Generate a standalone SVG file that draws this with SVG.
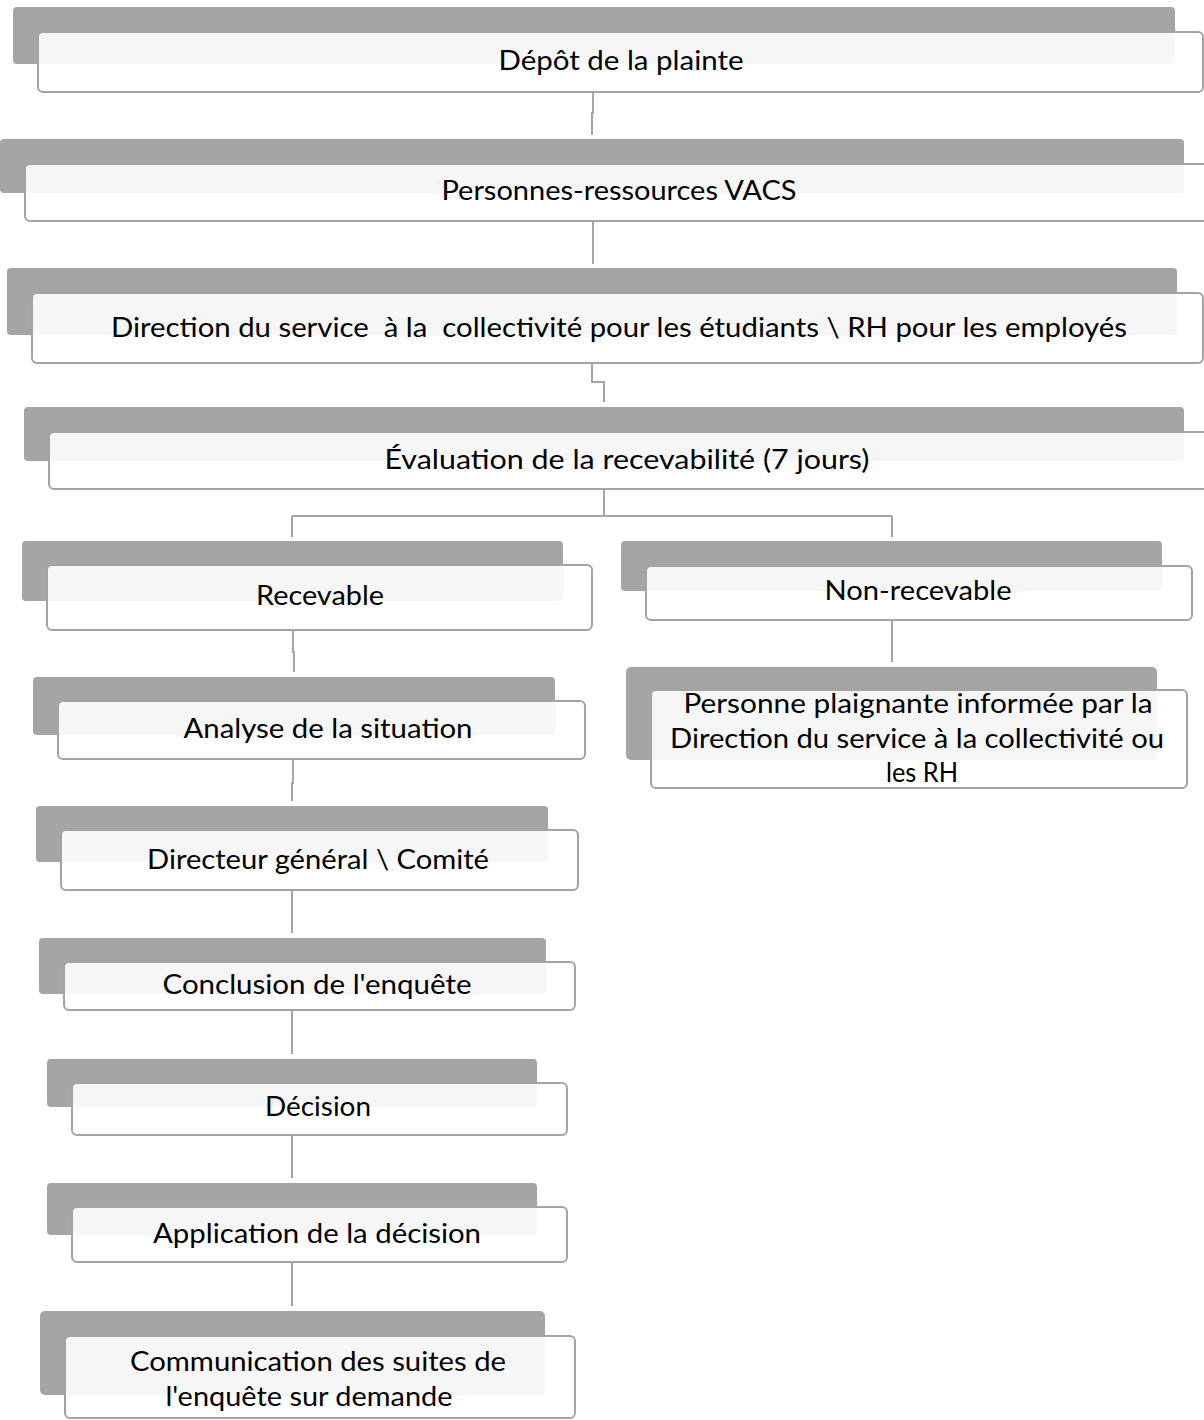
<svg xmlns="http://www.w3.org/2000/svg" width="1204" height="1420" viewBox="0 0 1204 1420">
<style>
.bg{fill:#a5a5a5;}
.fr{fill:#ffffff;fill-opacity:0.9;stroke:#a3a3a3;stroke-width:2;}
.cn{fill:none;stroke:#a5a5a5;stroke-width:2;}
text{font-family:Lato,"Open Sans","Liberation Sans",sans-serif;font-size:26px;fill:#000;text-anchor:middle;}
</style>
<rect width="1204" height="1420" fill="#ffffff"/>
<g id="connectors">
<path class="cn" d="M593 92 V113 H592 V135"/>
<path class="cn" d="M593 221 V264"/>
<path class="cn" d="M592 363 V382 H604 V402"/>
<path class="cn" d="M604 489 V516 M292 516 H892 M292 516 V537 M892 516 V537"/>
<path class="cn" d="M892 620 V662"/>
<path class="cn" d="M293 630 V652 H294 V672"/>
<path class="cn" d="M293 759 V783 H292 V801"/>
<path class="cn" d="M292 890 V933"/>
<path class="cn" d="M292 1010 V1054"/>
<path class="cn" d="M292 1135 V1178"/>
<path class="cn" d="M292 1262 V1306"/>
</g>
<g id="n1">
<rect class="bg" x="13" y="7" width="1162" height="57" rx="4"/>
<rect class="fr" x="38" y="32" width="1165" height="60" rx="5"/>
<text x="621" y="70" textLength="245" lengthAdjust="spacingAndGlyphs">Dépôt de la plainte</text>
</g>
<g id="n2">
<rect class="bg" x="0" y="139" width="1184" height="54" rx="4"/>
<rect class="fr" x="25" y="164" width="1190" height="57" rx="5"/>
<text x="619" y="200" textLength="355" lengthAdjust="spacingAndGlyphs">Personnes-ressources VACS</text>
</g>
<g id="n3">
<rect class="bg" x="7" y="268" width="1170" height="67" rx="4"/>
<rect class="fr" x="32" y="293" width="1171" height="70" rx="5"/>
<text x="619" y="337" textLength="1016" lengthAdjust="spacingAndGlyphs" xml:space="preserve">Direction du service  à la  collectivité pour les étudiants \ RH pour les employés</text>
</g>
<g id="n4">
<rect class="bg" x="24" y="407" width="1160" height="54" rx="4"/>
<rect class="fr" x="49" y="432" width="1165" height="57" rx="5"/>
<text x="627" y="469" textLength="485" lengthAdjust="spacingAndGlyphs">Évaluation de la recevabilité (7 jours)</text>
</g>
<g id="n5">
<rect class="bg" x="22" y="541" width="541" height="60" rx="4"/>
<rect class="fr" x="47" y="565" width="545" height="65" rx="5"/>
<text x="320" y="605" textLength="128" lengthAdjust="spacingAndGlyphs">Recevable</text>
</g>
<g id="n6">
<rect class="bg" x="621" y="541" width="541" height="50" rx="4"/>
<rect class="fr" x="646" y="566" width="546" height="54" rx="5"/>
<text x="918" y="600" textLength="187" lengthAdjust="spacingAndGlyphs">Non-recevable</text>
</g>
<g id="n7">
<rect class="bg" x="626" y="667" width="531" height="93" rx="5"/>
<rect class="fr" x="651" y="690" width="536" height="98" rx="5"/>
<text x="918" y="713" textLength="469" lengthAdjust="spacingAndGlyphs">Personne plaignante informée par la</text>
<text x="917" y="748" textLength="494" lengthAdjust="spacingAndGlyphs">Direction du service à la collectivité ou</text>
<text x="922" y="782" textLength="72" lengthAdjust="spacingAndGlyphs">les RH</text>
</g>
<g id="n8">
<rect class="bg" x="33" y="677" width="522" height="58" rx="4"/>
<rect class="fr" x="58" y="701" width="527" height="58" rx="5"/>
<text x="328" y="738" textLength="289" lengthAdjust="spacingAndGlyphs">Analyse de la situation</text>
</g>
<g id="n9">
<rect class="bg" x="36" y="806" width="512" height="56" rx="4"/>
<rect class="fr" x="61" y="830" width="517" height="60" rx="5"/>
<text x="318" y="869" textLength="342" lengthAdjust="spacingAndGlyphs">Directeur général \ Comité</text>
</g>
<g id="n10">
<rect class="bg" x="39" y="938" width="507" height="56" rx="4"/>
<rect class="fr" x="64" y="962" width="511" height="48" rx="5"/>
<text x="317" y="994" textLength="309" lengthAdjust="spacingAndGlyphs">Conclusion de l'enquête</text>
</g>
<g id="n11">
<rect class="bg" x="47" y="1059" width="490" height="48" rx="4"/>
<rect class="fr" x="72" y="1083" width="495" height="52" rx="5"/>
<text x="318" y="1116" textLength="106" lengthAdjust="spacingAndGlyphs">Décision</text>
</g>
<g id="n12">
<rect class="bg" x="47" y="1183" width="490" height="52" rx="4"/>
<rect class="fr" x="72" y="1207" width="495" height="55" rx="5"/>
<text x="317" y="1243" textLength="328" lengthAdjust="spacingAndGlyphs">Application de la décision</text>
</g>
<g id="n13">
<rect class="bg" x="40" y="1311" width="505" height="84" rx="5"/>
<rect class="fr" x="65" y="1336" width="510" height="82" rx="5"/>
<text x="318" y="1371" textLength="376" lengthAdjust="spacingAndGlyphs">Communication des suites de</text>
<text x="309" y="1406" textLength="287" lengthAdjust="spacingAndGlyphs">l'enquête sur demande</text>
</g>
</svg>
